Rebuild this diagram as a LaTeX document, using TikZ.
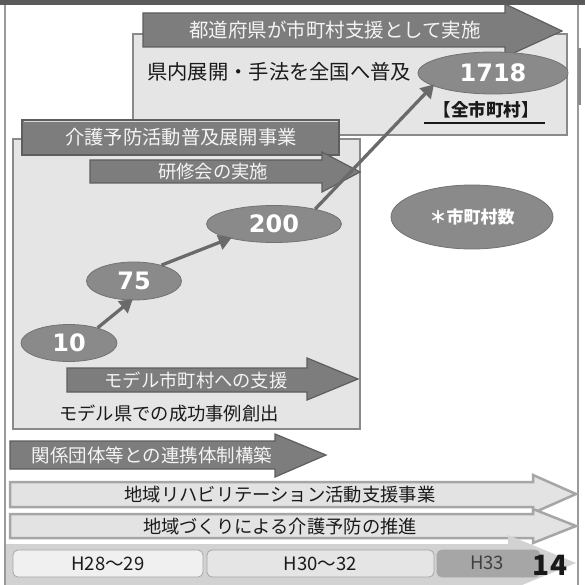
\documentclass[tikz,border=0pt]{standalone}
\usepackage{fontspec}
\setmainfont{Noto Sans CJK JP}
\newfontfamily\numfont{DejaVu Sans}
\usetikzlibrary{shapes.geometric,arrows.meta}
\definecolor{topbar}{HTML}{5A5A5A}
\definecolor{frameline}{HTML}{9A9A9A}
\definecolor{panelfill}{HTML}{E5E5E5}
\definecolor{panelline}{HTML}{8A8A8A}
\definecolor{darkfill}{HTML}{7D7D7D}
\definecolor{darkline}{HTML}{5E5E5E}
\definecolor{ellfill}{HTML}{8A8A8A}
\definecolor{ellline}{HTML}{727272}
\definecolor{lightfill}{HTML}{E3E3E3}
\definecolor{lightline}{HTML}{A6A6A6}
\definecolor{bandfill}{HTML}{D2D2D2}
\definecolor{connline}{HTML}{6A6A6A}
\definecolor{lighttext}{HTML}{F4F4F4}
\definecolor{darktext}{HTML}{1A1A1A}
\tikzset{
  panel/.style={fill=panelfill,draw=panelline,line width=2pt},
  darkarrow/.style={fill=darkfill,draw=darkline,line width=1.2pt,line join=miter},
  lightarrow/.style={fill=lightfill,draw=lightline,line width=2.5pt,line join=miter},
  txt/.style={inner sep=0pt,font=\fontsize{18.3}{20}\selectfont,text=darktext},
  wtxt/.style={txt,text=lighttext},
  num/.style={ellipse,fill=ellfill,draw=ellline,line width=0.8pt,inner sep=0pt,text=white,font=\numfont\bfseries\fontsize{24}{26}\selectfont},
  conn/.style={draw=connline,line width=3.3pt,-{Triangle[length=13pt,width=15pt]},shorten >=-2pt},
  tbox/.style={draw=lightline,line width=0.8pt,rounded corners=5pt,inner sep=0pt,minimum height=27pt,font=\fontsize{18.5}{20}\selectfont,text=darktext}
}
\begin{document}
\begin{tikzpicture}[x=1pt,y=-1pt]
\useasboundingbox (0,0) rectangle (585,585);
\fill[white] (0,0) rectangle (585,585);
% frame
\fill[topbar] (0,0) rectangle (585,5);
\draw[frameline,line width=1.2pt] (5,5) -- (5,585);
\draw[frameline,line width=1.2pt] (578,5) -- (578,585);
\draw[topbar!70,line width=2.5pt] (579.5,48) -- (579.5,105);
% upper panel
\draw[panel] (133,34) rectangle (567,135);
\draw[darkarrow] (143,13) -- (505,13) -- (505,4) -- (562,31) -- (505,57) -- (505,47) -- (143,47) -- cycle;
\node[wtxt,font=\fontsize{19.5}{21}\selectfont] (t1) at (335,30) {都道府県が市町村支援として実施};
\node[txt,anchor=west,font=\fontsize{20.3}{22}\selectfont] (t2) at (147,72) {県内展開・手法を全国へ普及};
\node[num,minimum width=150pt,minimum height=42pt] (e1718) at (493,73) {1718};
\node[txt,font=\bfseries\fontsize{17.5}{20}\selectfont] (t3) at (486,110) {【全市町村】};
\draw[darktext,line width=1.3pt] (424,123) -- (545,123);
% lower panel
\draw[panel] (13,139) rectangle (360,429);
\draw[fill=darkfill,draw=darkline,line width=1.2pt] (22,120) rectangle (339,155);
\draw[white!70!darkfill,line width=1pt] (23.5,121.5) -- (337.5,121.5);
\node[wtxt,font=\fontsize{19.3}{21}\selectfont] (t4) at (181,137) {介護予防活動普及展開事業};
\draw[darkarrow] (90,160) -- (322,160) -- (322,152) -- (360,172) -- (322,192) -- (322,183) -- (90,183) -- cycle;
\node[wtxt] (t5) at (213,172) {研修会の実施};
\node[num,minimum width=96pt,minimum height=37pt] (e10) at (69,343) {10};
\node[num,minimum width=95pt,minimum height=38pt] (e75) at (134,281) {75};
\node[num,minimum width=135pt,minimum height=37pt] (e200) at (274,224) {200};
\node[num,minimum width=162pt,minimum height=64pt,font=\bfseries\fontsize{17}{19}\selectfont] (enote) at (472,217) {＊市町村数};
\draw[darkarrow] (67,368) -- (307,368) -- (307,358) -- (358,379) -- (307,400) -- (307,392) -- (67,392) -- cycle;
\node[wtxt] (t6) at (196,380) {モデル市町村への支援};
\node[txt] (t7) at (169,413) {モデル県での成功事例創出};
% connectors
\draw[conn] (e10.28) -- (e75.262);
\draw[conn] (e75.30) -- (e200.198);
\draw[conn] (e200.20) -- (e1718.192);
% lower arrows
\draw[darkarrow] (10,441) -- (275,441) -- (275,434) -- (326,455) -- (275,477) -- (275,469) -- (10,469) -- cycle;
\node[wtxt,font=\fontsize{18.5}{20}\selectfont] (t8) at (152,455) {関係団体等との連携体制構築};
\draw[lightarrow] (10,482) -- (533,482) -- (533,475) -- (576,494) -- (533,513) -- (533,507) -- (10,507) -- cycle;
\node[txt] (t9) at (280,495) {地域リハビリテーション活動支援事業};
\draw[lightarrow] (10,514) -- (533,514) -- (533,509) -- (576,526) -- (533,543) -- (533,538) -- (10,538) -- cycle;
\node[txt] (t10) at (280,527) {地域づくりによる介護予防の推進};
% timeline band
\fill[bandfill] (6,544) -- (508,544) -- (508,535) -- (576,563) -- (522,585) -- (6,585) -- cycle;
\node[tbox,fill=white!94!black,minimum width=190pt] (h1) at (108,563.5) {H28～29};
\node[tbox,fill=panelfill,minimum width=227pt] (h2) at (320.5,563.5) {H30～32};
\node[tbox,fill=black!35,minimum width=103pt] (h3) at (488.5,563.5) {};
\node[txt,font=\fontsize{18.5}{20}\selectfont,text=black!75] (h3t) at (487,563) {H33};
\node[inner sep=0pt,font=\bfseries\fontsize{28}{30}\selectfont,text=black!90] (pg) at (550,565) {14};
\end{tikzpicture}
\end{document}
